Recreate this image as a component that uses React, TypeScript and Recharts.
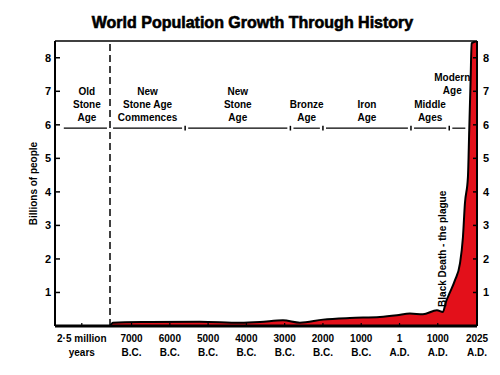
import React from "react";
import { ComposedChart, Area, XAxis, YAxis, ReferenceLine, ReferenceDot } from "recharts";

// years on the (schematic) time axis, population in billions
const YEARS = [-7563, -7485, -6519, -5213, -4168, -3645, -3045, -2601, -2000, -1295, -511, -67, 273, 612, 978, 1135, 1213, 1317, 1448, 1579, 1657, 1709, 1788, 1822, 1858, 1884, 2025];
const BILLIONS = [0, 0.1, 0.12, 0.13, 0.1, 0.12, 0.17, 0.1, 0.19, 0.24, 0.27, 0.32, 0.37, 0.35, 0.47, 0.42, 0.72, 1.0, 1.36, 1.86, 2.64, 3.65, 4.44, 5.84, 7.33, 8.43, 8.5];

// x-axis labels (the first slot stands for the compressed 2.5 million years)
const TICK_YEARS = [-8300, -7000, -6000, -5000, -4000, -3000, -2000, -1000, 1, 1000, 2025];
const TICK_TOP = ["2·5 million", "7000", "6000", "5000", "4000", "3000", "2000", "1000", "1", "1000", "2025"];
const TICK_BOTTOM = ["years", "B.C.", "B.C.", "B.C.", "B.C.", "B.C.", "B.C.", "B.C.", "A.D.", "A.D.", "A.D."];

const Y_TICKS = [1, 2, 3, 4, 5, 6, 7, 8];

// ages of history
const ERA_NAMES = [
  ["Old", "Stone", "Age"],
  ["New", "Stone Age", "Commences"],
  ["New", "Stone", "Age"],
  ["Bronze", "Age"],
  ["Iron", "Age"],
  ["Middle", "Ages"],
  ["Modern", "Age"],
];
const ERA_STARTS = [-8770, -7563, -5600, -2850, -2000, 300, 1300];
const ERA_ENDS = [-7563, -5600, -2850, -2000, 300, 1300, 1800];
const ERA_LEVEL = 5.9;
const NEW_STONE_AGE = -7563;

const BLACK_DEATH_YEAR = 1135;
const BLACK_DEATH_VALUE = 0.42;

const data = YEARS.map((year, i) => ({ year, pop: BILLIONS[i] }));

const RED = "#e3101a";
const FONT = '"Liberation Sans", Arial, sans-serif';
const GAP_YEARS = 80;

function BottomTick({ x, y, index }: any) {
  return (
    <g>
      <line x1={x} x2={x} y1={y} y2={y - 3} stroke="#000" strokeWidth={1.2} />
      <text x={x} y={y + 15.5} textAnchor="middle" fontSize={10} fontWeight={700} fill="#000" fontFamily={FONT}>
        {TICK_TOP[index]}
      </text>
      <text x={x} y={y + 29.5} textAnchor="middle" fontSize={10} fontWeight={700} fill="#000" fontFamily={FONT}>
        {TICK_BOTTOM[index]}
      </text>
    </g>
  );
}

function LeftTick({ x, y, payload }: any) {
  return (
    <g>
      <line x1={x} x2={x + 5} y1={y} y2={y} stroke="#000" strokeWidth={1.5} />
      <text x={x - 4} y={y + 4} textAnchor="end" fontSize={11} fontWeight={700} fill="#000" fontFamily={FONT}>
        {payload.value}
      </text>
    </g>
  );
}

function RightTick({ x, y, payload }: any) {
  return (
    <g>
      <line x1={x - 4} x2={x} y1={y} y2={y} stroke="#000" strokeWidth={1.5} />
      <text x={x + 6} y={y + 4} textAnchor="start" fontSize={11} fontWeight={700} fill="#000" fontFamily={FONT}>
        {payload.value}
      </text>
    </g>
  );
}

function eraLabel(lines: string[], lift: number) {
  return (p: any) => {
    const n = lines.length;
    return (
      <g>
        {lines.map((l, k) => (
          <text
            key={k}
            x={p.cx}
            y={p.cy - 11 - lift - (n - 1 - k) * 13 + 3.5}
            textAnchor="middle"
            fontSize={10}
            fontWeight={700}
            fill="#000"
            fontFamily={FONT}
          >
            {l}
          </text>
        ))}
      </g>
    );
  };
}

function blackDeathLabel(p: any) {
  return (
    <text
      transform={`translate(${p.cx + 2.6}, ${p.cy - 5}) rotate(-90)`}
      textAnchor="start"
      fontSize={10}
      fontWeight={700}
      fill="#000"
      fontFamily={FONT}
    >
      Black Death - the plague
    </text>
  );
}

export default function App() {
  const last = ERA_NAMES.length - 1;
  return (
    <div style={{ position: "absolute", left: 0, top: 0, width: 500, height: 375, background: "#fff", fontFamily: FONT }}>
      <ComposedChart width={500} height={375} data={data} margin={{ top: 41, right: 0, bottom: 0, left: 0 }}>
        <XAxis
          dataKey="year"
          type="number"
          domain={[-9000, 2025]}
          ticks={TICK_YEARS}
          interval={0}
          allowDataOverflow
          height={49}
          tickSize={0}
          tickMargin={0}
          tickLine={false}
          axisLine={{ stroke: "#000", strokeWidth: 3 }}
          tick={<BottomTick />}
        />
        <YAxis
          type="number"
          domain={[0, 8.5]}
          ticks={Y_TICKS}
          allowDataOverflow
          width={55}
          tickSize={0}
          tickMargin={0}
          tickLine={false}
          axisLine={{ stroke: "#000", strokeWidth: 2 }}
          tick={<LeftTick />}
          label={{
            content: (p: any) => {
              const vb = p.viewBox;
              return (
                <text
                  transform={`translate(${vb.x + 37}, ${vb.y + vb.height / 2}) rotate(-90)`}
                  textAnchor="middle"
                  fontSize={10}
                  fontWeight={700}
                  fill="#000"
                  fontFamily={FONT}
                >
                  Billions of people
                </text>
              );
            },
          }}
        />
        <YAxis
          yAxisId="r"
          orientation="right"
          type="number"
          domain={[0, 8.5]}
          ticks={Y_TICKS}
          allowDataOverflow
          width={23}
          tickSize={0}
          tickMargin={0}
          tickLine={false}
          axisLine={{ stroke: "#000", strokeWidth: 2 }}
          tick={<RightTick />}
        />
        <Area
          type="monotone"
          dataKey="pop"
          stroke="#000"
          strokeWidth={2}
          fill={RED}
          fillOpacity={1}
          isAnimationActive={false}
        />
        <ReferenceLine y={8.5} stroke="#000" strokeWidth={1.5} />
        <ReferenceLine x={NEW_STONE_AGE} stroke="#000" strokeWidth={1.5} strokeDasharray="7 4" />
        {ERA_NAMES.map((_, i) => (
          <ReferenceLine
            key={"seg" + i}
            segment={[
              { x: ERA_STARTS[i] + (i === 0 ? 0 : GAP_YEARS), y: ERA_LEVEL },
              { x: ERA_ENDS[i] - GAP_YEARS, y: ERA_LEVEL },
            ]}
            stroke="#000"
            strokeWidth={1.2}
          />
        ))}
        {ERA_STARTS.slice(2).map((yr, i) => (
          <ReferenceLine
            key={"sep" + i}
            segment={[
              { x: yr, y: ERA_LEVEL - 0.07 },
              { x: yr, y: ERA_LEVEL + 0.07 },
            ]}
            stroke="#000"
            strokeWidth={1.5}
          />
        ))}
        {ERA_NAMES.map((lines, i) => (
          <ReferenceDot
            key={"lab" + i}
            x={i === last ? ERA_STARTS[i] + 80 : (ERA_STARTS[i] + ERA_ENDS[i]) / 2}
            y={ERA_LEVEL}
            r={0}
            shape={eraLabel(lines, i === last ? 27 : 0)}
          />
        ))}
        <ReferenceDot x={BLACK_DEATH_YEAR} y={BLACK_DEATH_VALUE} r={0} shape={blackDeathLabel} />
      </ComposedChart>
      <div
        style={{
          position: "absolute",
          top: 15,
          left: 0,
          width: 505,
          textAlign: "center",
          fontSize: 16,
          fontWeight: 700,
          lineHeight: "16px",
          color: "#000",
          WebkitTextStroke: "0.6px #000",
        }}
      >
        World Population Growth Through History
      </div>
    </div>
  );
}
